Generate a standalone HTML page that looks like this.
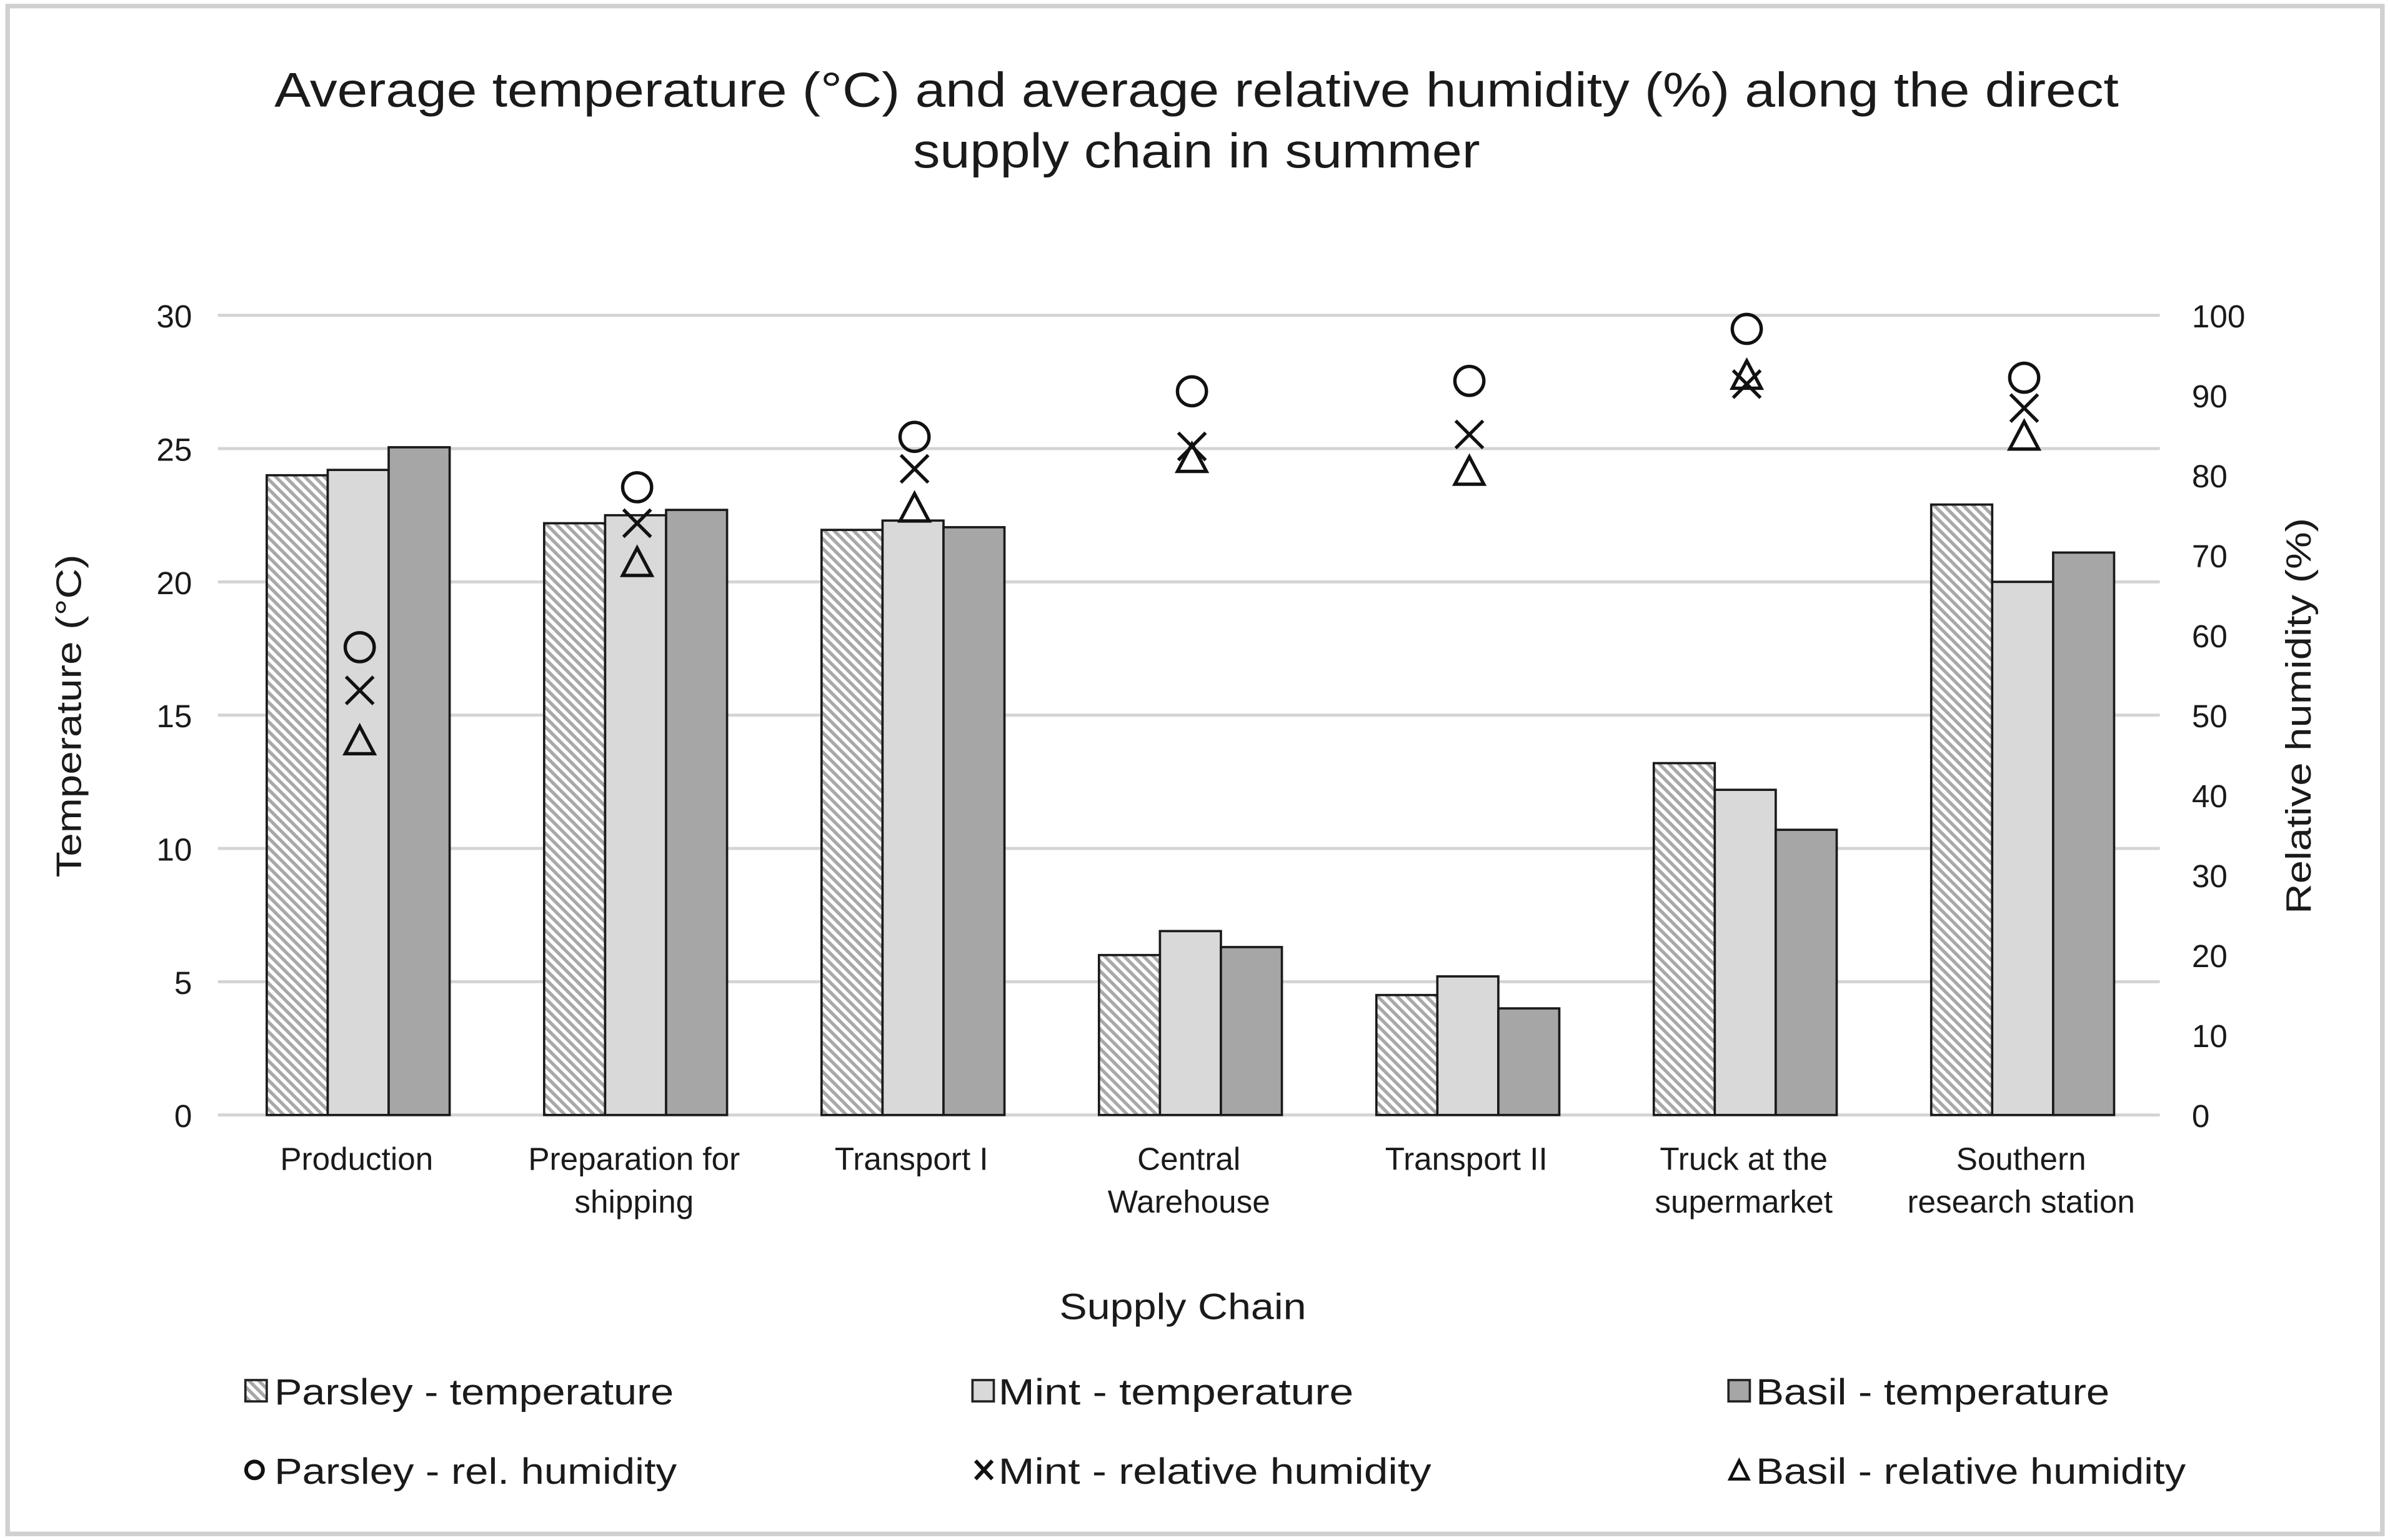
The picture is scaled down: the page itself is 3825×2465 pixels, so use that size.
<!DOCTYPE html>
<html><head><meta charset="utf-8"><style>
html,body{margin:0;padding:0;background:#fff}
svg{display:block}
text{font-family:"Liberation Sans",Arial,sans-serif;fill:#1a1a1a}
</style></head><body>
<svg id="chart" width="3825" height="2465" viewBox="0 0 1568 1011" preserveAspectRatio="none" xmlns="http://www.w3.org/2000/svg">
<defs>
<pattern id="hatch" patternUnits="userSpaceOnUse" width="4.5" height="4.5" patternTransform="rotate(-45)">
<rect width="4.5" height="4.5" fill="#fff"/><rect width="2.2" height="4.5" fill="#a8a8a8"/>
</pattern>
</defs>
<rect x="5" y="4" width="1558" height="1003" fill="#fff" stroke="#d0d0d0" stroke-width="3"/>
<text x="785" y="70" font-size="32" text-anchor="middle" textLength="1210" lengthAdjust="spacingAndGlyphs">Average temperature (°C) and average relative humidity (%) along the direct</text>
<text x="785" y="110" font-size="32" text-anchor="middle" textLength="372" lengthAdjust="spacingAndGlyphs">supply chain in summer</text>
<g id="grid"></g>
<g id="bars"></g>
<g id="marks"></g>
<g id="labels"></g>
<text transform="translate(53,470) rotate(-90)" font-size="23" text-anchor="middle" textLength="212" lengthAdjust="spacingAndGlyphs">Temperature (°C)</text>
<text transform="translate(1516,470) rotate(-90)" font-size="23" text-anchor="middle" textLength="260" lengthAdjust="spacingAndGlyphs">Relative humidity (%)</text>
<text x="776" y="866" font-size="24" text-anchor="middle" textLength="162" lengthAdjust="spacingAndGlyphs">Supply Chain</text>
<g font-size="24">
<g><rect x="161" y="906" width="14" height="14" fill="url(#hatch)" stroke="#222" stroke-width="1.5"/><text x="180" y="922" textLength="262" lengthAdjust="spacingAndGlyphs">Parsley - temperature</text></g>
<g><rect x="638" y="906" width="14" height="14" fill="#d9d9d9" stroke="#222" stroke-width="1.5"/><text x="655" y="922" textLength="233" lengthAdjust="spacingAndGlyphs">Mint - temperature</text></g>
<g><rect x="1134" y="906" width="14" height="14" fill="#a6a6a6" stroke="#222" stroke-width="1.5"/><text x="1152" y="922" textLength="232" lengthAdjust="spacingAndGlyphs">Basil - temperature</text></g>
<g><circle cx="167" cy="965" r="5.5" fill="none" stroke="#111" stroke-width="2.5"/><text x="180" y="974" textLength="264" lengthAdjust="spacingAndGlyphs">Parsley - rel. humidity</text></g>
<g><path d="M640 959 L651 971 M651 959 L640 971" stroke="#111" stroke-width="2.5"/><text x="655" y="974" textLength="284" lengthAdjust="spacingAndGlyphs">Mint - relative humidity</text></g>
<g><path d="M1141 959 L1147 971 L1135 971 Z" fill="none" stroke="#111" stroke-width="2"/><text x="1152" y="974" textLength="282" lengthAdjust="spacingAndGlyphs">Basil - relative humidity</text></g>
</g>
</svg>
<script>
const categories = [["Production"],["Preparation for","shipping"],["Transport I"],["Central","Warehouse"],["Transport II"],["Truck at the","supermarket"],["Southern","research station"]];
const parsleyTemp = [24.0, 22.2, 21.95, 6.0, 4.5, 13.2, 22.9];
const mintTemp = [24.2, 22.5, 22.3, 6.9, 5.2, 12.2, 20.0];
const basilTemp = [25.05, 22.7, 22.05, 6.3, 4.0, 10.7, 21.1];
const parsleyRH = [58.5, 78.5, 84.8, 90.5, 91.8, 98.3, 92.2];
const mintRH = [53.1, 74.0, 80.8, 83.6, 85.1, 91.4, 88.4];
const basilRH = [46.7, 69.0, 75.8, 82.0, 80.4, 92.4, 84.8];
const leftTicks = [0,5,10,15,20,25,30];
const rightTicks = [0,10,20,30,40,50,60,70,80,90,100];

const NS="http://www.w3.org/2000/svg";
const X0=143, X1=1417, Y0=732, Y1=207;
const yT = v => Y0 - (v/30)*(Y0-Y1);
const yH = v => Y0 - (v/100)*(Y0-Y1);
const bandW = (X1-X0)/categories.length;
const xC = i => X0 + bandW*(i+0.5);
const barW = 40;
function mk(tag, attrs, parent){const e=document.createElementNS(NS,tag);for(const k in attrs)e.setAttribute(k,attrs[k]);parent.appendChild(e);return e;}
const grid=document.getElementById('grid'), bars=document.getElementById('bars'), marks=document.getElementById('marks'), labels=document.getElementById('labels');
leftTicks.forEach(t=>{
  const l=mk('line',{x1:X0,x2:X1,y1:yT(t),y2:yT(t),stroke:'#d4d4d4','stroke-width':2},grid);
  
  
  const tx=mk('text',{x:126,y:yT(t)+8,'font-size':21,'text-anchor':'end'},labels);
  tx.textContent=t;
  
  
});
rightTicks.forEach(t=>{
  const tx=mk('text',{x:1438,y:yH(t)+8,'font-size':21,'text-anchor':'start'},labels);
  tx.textContent=t;
  
  
});
const series=[[parsleyTemp,'url(#hatch)','parsley'],[mintTemp,'#d9d9d9','mint'],[basilTemp,'#a6a6a6','basil']];
categories.forEach((c,i)=>{
  series.forEach((s,j)=>{
    const x=xC(i)+(j-1.5)*barW+1, y=yT(s[0][i]);
    const r=mk('rect',{x:x,y:y,width:barW,height:Y0-y,fill:s[1],stroke:'#1a1a1a','stroke-width':1.5},bars);
    
    
  });
  c.forEach((ln,k)=>{
    const tx=mk('text',{x:xC(i),y:768+k*28,'font-size':21,'text-anchor':'middle'},labels);
    tx.textContent=ln;
    
    
  });
  const cx=xC(i)+2;
  const o=mk('circle',{cx:cx,cy:yH(parsleyRH[i]),r:9.5,fill:'none',stroke:'#111','stroke-width':2.2},marks);
  
  
  const y=yH(mintRH[i]);
  const xm=mk('path',{d:`M${cx-9} ${y-9} L${cx+9} ${y+9} M${cx+9} ${y-9} L${cx-9} ${y+9}`,stroke:'#111','stroke-width':2.2},marks);
  
  
  const yb=yH(basilRH[i]);
  const tr=mk('path',{d:`M${cx} ${yb-10} L${cx+9.5} ${yb+8} L${cx-9.5} ${yb+8} Z`,fill:'none',stroke:'#111','stroke-width':2.2},marks);
  
  
});
</script>
</body></html>
